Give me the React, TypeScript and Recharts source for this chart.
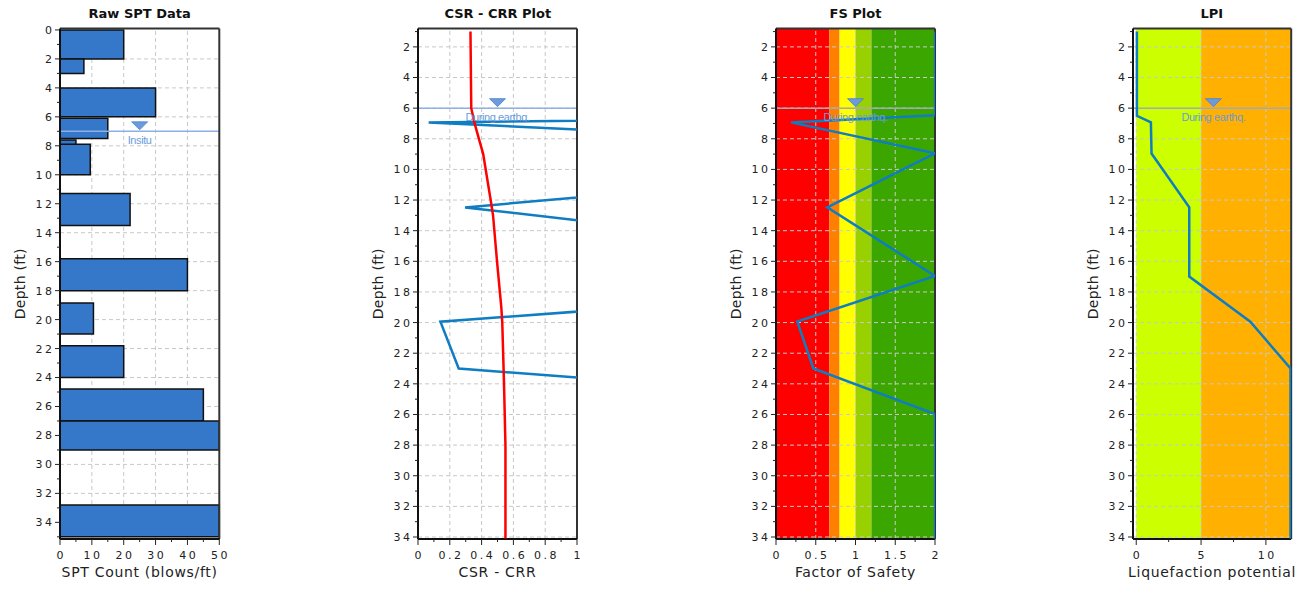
import React from 'react';
import { ComposedChart, XAxis, YAxis, Scatter, ReferenceArea, ReferenceLine, ReferenceDot } from 'recharts';

// Raw SPT intervals (ft) and blow counts
const SPT_TOP = [0, 2, 4, 6.1, 7.6, 7.9, 11.3, 15.8, 18.85, 21.8, 24.8, 27, 32.8];
const SPT_BOTTOM = [2, 3, 6, 7.5, 8, 10, 13.5, 18, 21, 24, 27, 29, 35];
const SPT_COUNT = [20, 7.5, 30, 15, 5, 9.5, 22, 40, 10.5, 20, 45, 50, 50];

// CSR (red) and CRR (blue)
const CSR_DEPTH = [1, 6, 7, 9, 12, 13, 16, 19, 20, 24, 28, 34.1];
const CSR_VALUE = [0.33, 0.335, 0.356, 0.41, 0.457, 0.472, 0.497, 0.524, 0.53, 0.541, 0.55, 0.55];
const CRR_DEPTH = [1, 6.46, 6.93, 8.95, 12.48, 16.96, 19.94, 23.0, 25.98, 34.1];
const CRR_VALUE = [4.0, 4.0, 0.067, 4.1, 0.296, 4.05, 0.141, 0.256, 4.0, 4.0];

// factor of safety (capped at 2)
const FS_DEPTH = [1, 6.46, 6.93, 8.95, 12.48, 16.96, 19.94, 23.0, 25.98, 34.1];
const FS_VALUE = [2, 2, 0.19, 2, 0.645, 2, 0.268, 0.47, 2, 2];

// liquefaction potential index
const LPI_DEPTH = [1, 6.5, 6.93, 8.96, 12.48, 17.0, 19.94, 23.0, 34.1];
const LPI_VALUE = [0.05, 0.05, 1.13, 1.18, 4.09, 4.09, 8.8, 11.9, 11.9];

const FS_BAND_FROM = [0, 0.67, 0.8, 1.0, 1.2];
const FS_BAND_TO = [0.67, 0.8, 1.0, 1.2, 2];
const FS_BAND_COLOR = ['#ff0000', '#ff8000', '#ffff00', '#99d000', '#3ca600'];
const LPI_BAND_FROM = [0, 5];
const LPI_BAND_TO = [5, 11.9];
const LPI_BAND_COLOR = ['#ccff00', '#ffb000'];

// ticks
const SPT_DEPTH_TICKS = [0, 1, 2, 3, 4, 5, 6, 7, 8, 9, 10, 11, 12, 13, 14, 15, 16, 17, 18, 19, 20, 21, 22, 23, 24, 25, 26, 27, 28, 29, 30, 31, 32, 33, 34, 35];
const SPT_DEPTH_LABELS = [0, 2, 4, 6, 8, 10, 12, 14, 16, 18, 20, 22, 24, 26, 28, 30, 32, 34];
const DEPTH_TICKS = [1, 2, 3, 4, 5, 6, 7, 8, 9, 10, 11, 12, 13, 14, 15, 16, 17, 18, 19, 20, 21, 22, 23, 24, 25, 26, 27, 28, 29, 30, 31, 32, 33, 34];
const DEPTH_LABELS = [2, 4, 6, 8, 10, 12, 14, 16, 18, 20, 22, 24, 26, 28, 30, 32, 34];

const SPT_X_TICKS = [0, 5, 10, 15, 20, 25, 30, 35, 40, 45, 50];
const SPT_X_LABELS = [0, 10, 20, 30, 40, 50];
const CSR_X_TICKS = [0, 0.1, 0.2, 0.3, 0.4, 0.5, 0.6, 0.7, 0.8, 0.9, 1];
const CSR_X_LABELS = [0, 0.2, 0.4, 0.6, 0.8, 1];
const FS_X_TICKS = [0, 0.25, 0.5, 0.75, 1, 1.25, 1.5, 1.75, 2];
const FS_X_LABELS = [0, 0.5, 1, 1.5, 2];
const LPI_X_TICKS = [0, 2.5, 5, 7.5, 10];
const LPI_X_LABELS = [0, 5, 10];

const H = 589;
const FONT = '"DejaVu Sans", Verdana, sans-serif';
const TICK_STYLE = { fontFamily: FONT, fontSize: 11, letterSpacing: 2.5, fill: '#222' };
const GRID = '#c8c8c8';

const toPoints = (xs: number[], ds: number[]) => xs.map((x, i) => ({ x, depth: ds[i] }));
const has = (arr: number[], v: number) => arr.some((a) => Math.abs(a - v) < 1e-9);

function makeYTick(labels: number[]) {
  return (props: any) => {
    const { x, y, payload } = props;
    const major = has(labels, payload.value);
    return (
      <g>
        <line x1={x - (major ? 5 : 3)} x2={x} y1={y} y2={y} stroke="#222" />
        {major && (
          <text x={x - 5.5} y={y} dy="0.36em" textAnchor="end" style={TICK_STYLE}>
            {payload.value}
          </text>
        )}
      </g>
    );
  };
}

function makeXTick(labels: number[]) {
  return (props: any) => {
    const { x, y, payload } = props;
    const major = has(labels, payload.value);
    return (
      <g>
        <line x1={x} x2={x} y1={y} y2={y + (major ? 6 : 3)} stroke="#222" />
        {major && (
          <text x={x + 1.25} y={y + 20.3} textAnchor="middle" style={TICK_STYLE}>
            {payload.value}
          </text>
        )}
      </g>
    );
  };
}

const wtMarker = (label: string) => (p: any) => {
  const { cx, cy } = p;
  return (
    <g>
      <path
        d={`M${cx - 8},${cy - 9.5} L${cx + 8},${cy - 9.5} L${cx},${cy - 1.5} Z`}
        fill="#6b9bdc"
        stroke="#4d82c9"
        strokeWidth={0.8}
      />
      <text
        x={cx}
        y={cy + 12.5}
        textAnchor="middle"
        style={{ fontFamily: '"Liberation Sans", Arial, sans-serif', fontSize: 11, letterSpacing: -0.4, fill: '#6b9bdc' }}
      >
        {label}
      </text>
    </g>
  );
};

type PanelCfg = {
  title: string;
  xLabel: string;
  plotLeft: number;
  plotWidth: number;
  xDomain: [number, number];
  xTicks: number[];
  xLabels: number[];
  depthDomain: [number, number];
  depthTicks: number[];
  depthLabels: number[];
};

function gridLines(xs: number[], ds: number[]) {
  return [
    ...xs.map((v) => (
      <ReferenceLine key={`gx${v}`} x={v} stroke={GRID} strokeDasharray="4 3" ifOverflow="visible" zIndex={20} />
    )),
    ...ds.map((d) => (
      <ReferenceLine key={`gy${d}`} y={d} stroke={GRID} strokeDasharray="4 3" ifOverflow="visible" zIndex={20} />
    )),
  ];
}

function frame(cfg: PanelCfg) {
  return [
    <ReferenceLine key="ft" y={cfg.depthDomain[0]} stroke="#333" strokeWidth={2} ifOverflow="visible" zIndex={50} />,
    <ReferenceLine key="fr" x={cfg.xDomain[1]} stroke="#333" strokeWidth={2} ifOverflow="visible" zIndex={50} />,
  ];
}

function waterTable(depth: number, mid: number, label: string, color: string) {
  return [
    <ReferenceLine key="wt" y={depth} stroke={color} strokeWidth={1.5} ifOverflow="visible" zIndex={40} />,
    <ReferenceDot key="wtm" x={mid} y={depth} r={0} shape={wtMarker(label)} ifOverflow="visible" zIndex={700} />,
  ];
}

function Panel({ cfg, children }: { cfg: PanelCfg; children: React.ReactNode }) {
  const W = 60 + cfg.plotWidth + 20;
  return (
    <div style={{ position: 'absolute', left: cfg.plotLeft - 60, top: 0, width: W, height: H }}>
      <div
        style={{
          position: 'absolute',
          left: 60,
          width: cfg.plotWidth,
          top: 6,
          textAlign: 'center',
          fontFamily: FONT,
          fontWeight: 'bold',
          fontSize: 13,
          lineHeight: '15px',
          color: '#111',
          whiteSpace: 'nowrap',
        }}
      >
        {cfg.title}
      </div>
      <ComposedChart width={W} height={H} margin={{ top: 28.5, right: 20, bottom: 0, left: 0 }}>
        <XAxis
          type="number"
          dataKey="x"
          domain={cfg.xDomain}
          ticks={cfg.xTicks}
          interval={0}
          allowDataOverflow
          tickSize={0}
          tickMargin={0}
          tickLine={false}
          tick={makeXTick(cfg.xLabels)}
          height={50}
          axisLine={{ stroke: '#111', strokeWidth: 2 }}
          label={{
            value: cfg.xLabel,
            position: 'insideBottom',
            offset: 11.7,
            style: { fontFamily: FONT, fontSize: 14, letterSpacing: 0.7, fill: '#222' },
          }}
        />
        <YAxis
          type="number"
          dataKey="depth"
          domain={cfg.depthDomain}
          ticks={cfg.depthTicks}
          interval={0}
          reversed
          allowDataOverflow
          tickSize={0}
          tickMargin={0}
          tickLine={false}
          tick={makeYTick(cfg.depthLabels)}
          width={60}
          axisLine={{ stroke: '#111', strokeWidth: 2 }}
          label={{
            value: 'Depth (ft)',
            angle: -90,
            position: 'insideLeft',
            offset: 19.6,
            style: { fontFamily: FONT, fontSize: 14, letterSpacing: 0.3, fill: '#222', textAnchor: 'middle' },
          }}
        />
        {children}
      </ComposedChart>
    </div>
  );
}

const noDot = () => <g />;

const SPT_CFG: PanelCfg = {
  title: 'Raw SPT Data',
  xLabel: 'SPT Count (blows/ft)',
  plotLeft: 60,
  plotWidth: 159.3,
  xDomain: [0, 50],
  xTicks: SPT_X_TICKS,
  xLabels: SPT_X_LABELS,
  depthDomain: [-0.1, 35.15],
  depthTicks: SPT_DEPTH_TICKS,
  depthLabels: SPT_DEPTH_LABELS,
};

const CSR_CFG: PanelCfg = {
  title: 'CSR - CRR Plot',
  xLabel: 'CSR - CRR',
  plotLeft: 418.3,
  plotWidth: 159,
  xDomain: [0, 1],
  xTicks: CSR_X_TICKS,
  xLabels: CSR_X_LABELS,
  depthDomain: [0.8, 34.13],
  depthTicks: DEPTH_TICKS,
  depthLabels: DEPTH_LABELS,
};

const FS_CFG: PanelCfg = {
  title: 'FS Plot',
  xLabel: 'Factor of Safety',
  plotLeft: 776,
  plotWidth: 159,
  xDomain: [0, 2],
  xTicks: FS_X_TICKS,
  xLabels: FS_X_LABELS,
  depthDomain: [0.8, 34.13],
  depthTicks: DEPTH_TICKS,
  depthLabels: DEPTH_LABELS,
};

const LPI_CFG: PanelCfg = {
  title: 'LPI',
  xLabel: 'Liquefaction potential',
  plotLeft: 1132.8,
  plotWidth: 158.2,
  xDomain: [-0.25, 11.95],
  xTicks: LPI_X_TICKS,
  xLabels: LPI_X_LABELS,
  depthDomain: [0.8, 34.13],
  depthTicks: DEPTH_TICKS,
  depthLabels: DEPTH_LABELS,
};

export default function App() {
  return (
    <div style={{ position: 'absolute', left: 0, top: 0, width: 1302, height: H, background: '#fff' }}>
      <Panel cfg={SPT_CFG}>
        {gridLines([10, 20, 30, 40], SPT_DEPTH_LABELS.slice(1))}
        {SPT_COUNT.map((n, i) => (
          <ReferenceArea
            key={`spt${i}`}
            x1={0}
            x2={n}
            y1={SPT_TOP[i]}
            y2={SPT_BOTTOM[i]}
            fill="#3577c8"
            fillOpacity={1}
            stroke="#111"
            strokeWidth={1.5}
            ifOverflow="visible"
            zIndex={30}
          />
        ))}
        {frame(SPT_CFG)}
        {waterTable(7, 25, 'Insitu', '#8eb1e3')}
      </Panel>

      <Panel cfg={CSR_CFG}>
        {gridLines([0.2, 0.4, 0.6, 0.8], DEPTH_LABELS)}
        {frame(CSR_CFG)}
        {waterTable(6, 0.5, 'During earthq.', '#8eb1e3')}
        <Scatter
          data={toPoints(CRR_VALUE, CRR_DEPTH)}
          line={{ stroke: '#0f7dc2', strokeWidth: 2.5 }}
          shape={noDot}
          isAnimationActive={false}
        />
        <Scatter
          data={toPoints(CSR_VALUE, CSR_DEPTH)}
          line={{ stroke: '#ff0000', strokeWidth: 2.5 }}
          shape={noDot}
          isAnimationActive={false}
        />
      </Panel>

      <Panel cfg={FS_CFG}>
        {FS_BAND_COLOR.map((c, i) => (
          <ReferenceArea
            key={`fsb${i}`}
            x1={FS_BAND_FROM[i]}
            x2={FS_BAND_TO[i]}
            y1={FS_CFG.depthDomain[0]}
            y2={FS_CFG.depthDomain[1]}
            fill={c}
            fillOpacity={1}
            ifOverflow="visible"
            zIndex={10}
          />
        ))}
        {gridLines([0.5, 1, 1.5], DEPTH_LABELS)}
        {frame(FS_CFG)}
        {waterTable(6, 1, 'During earthq.', '#a4a9b8')}
        <Scatter
          data={toPoints(FS_VALUE, FS_DEPTH)}
          line={{ stroke: '#0f7dc2', strokeWidth: 2.5 }}
          shape={noDot}
          isAnimationActive={false}
        />
      </Panel>

      <Panel cfg={LPI_CFG}>
        {LPI_BAND_COLOR.map((c, i) => (
          <ReferenceArea
            key={`lpb${i}`}
            x1={LPI_BAND_FROM[i]}
            x2={LPI_BAND_TO[i]}
            y1={LPI_CFG.depthDomain[0]}
            y2={LPI_CFG.depthDomain[1]}
            fill={c}
            fillOpacity={1}
            ifOverflow="visible"
            zIndex={10}
          />
        ))}
        {gridLines([0, 5, 10], DEPTH_LABELS)}
        {frame(LPI_CFG)}
        {waterTable(6, 5.95, 'During earthq.', '#a4a9b8')}
        <Scatter
          data={toPoints(LPI_VALUE, LPI_DEPTH)}
          line={{ stroke: '#0f7dc2', strokeWidth: 2.5 }}
          shape={noDot}
          isAnimationActive={false}
        />
      </Panel>
    </div>
  );
}
